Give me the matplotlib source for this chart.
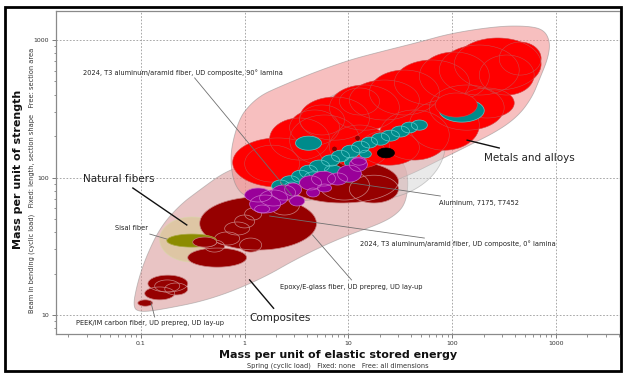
import numpy as np
import matplotlib
matplotlib.use("Agg")
import matplotlib.pyplot as plt
from matplotlib.patches import Polygon, Rectangle
from matplotlib.ticker import LogLocator, FuncFormatter, NullFormatter

# Property ranges: (x_low, x_high, y_low, y_high)
# x = mass per unit of elastic stored energy, y = mass per unit of strength
composites = [
    (2.48, 30.3, 65.3, 134),
    (0.369, 4.92, 29.7, 72.2),
    (0.283, 1.045, 22.3, 30.7),
    (0.117, 0.283, 14.7, 19.5),
    (0.109, 0.212, 12.9, 16.0),
    (0.0936, 0.130, 11.6, 12.9),
    (0.316, 0.538, 31.2, 36.9),
    (0.41, 0.64, 28.7, 35.1),
    (0.515, 0.895, 32.3, 40.2),
    (0.642, 1.117, 38.2, 47.5),
    (0.801, 1.248, 43.0, 53.4),
    (1.0, 1.457, 49.1, 60.0),
    (1.167, 1.942, 56.1, 68.6),
    (0.895, 1.457, 28.7, 36.3),
    (0.136, 0.237, 14.7, 18.0),
    (0.170, 0.283, 14.0, 17.1),
    (5.26, 15.9, 68.6, 113),
    (10.2, 30.3, 65.3, 104),
    (1.739, 3.38, 53.4, 74.6),
]
metals = [
    (0.767, 5.62, 85.3, 194),
    (1.0, 3.38, 92.7, 172),
    (1.739, 6.56, 134, 271),
    (2.71, 8.19, 172, 310),
    (2.71, 12.8, 123, 285),
    (3.38, 15.9, 187, 385),
    (6.56, 30.9, 221, 471),
    (10.2, 48.2, 262, 512),
    (15.9, 75.0, 285, 605),
    (27.7, 146, 337, 716),
    (48.2, 227, 366, 818),
    (75.0, 441, 398, 920),
    (104.5, 717, 433, 1035),
    (19.9, 93.5, 134, 310),
    (38.6, 182, 158, 366),
    (60.1, 316, 221, 471),
    (117, 395, 271, 448),
    (6.56, 24.8, 117, 241),
    (182, 614, 398, 778),
    (8.19, 19.9, 285, 448),
    (3.38, 9.16, 204, 337),
    (283, 717, 556, 967),
    (12.8, 48.2, 123, 221),
]
aluminium = [
    (75.0, 203, 253, 372),
    (3.09, 5.50, 158, 200),
    (1.82, 2.71, 78.5, 95.9),
    (2.22, 3.38, 83.9, 103),
    (2.83, 4.22, 92.7, 113),
    (3.38, 5.03, 99, 123),
    (4.22, 6.56, 110, 134),
    (5.50, 8.19, 121, 146),
    (6.87, 10.2, 130, 158),
    (8.57, 12.8, 139, 172),
    (10.7, 15.9, 151, 184),
    (13.3, 19.0, 164, 197),
    (16.6, 24.8, 172, 211),
    (20.7, 30.9, 184, 221),
    (25.9, 38.6, 197, 237),
    (32.3, 46.1, 211, 253),
    (40.4, 57.5, 221, 262),
    (3.78, 5.50, 92.7, 110),
    (5.88, 8.57, 104, 123),
    (9.16, 13.3, 117, 141),
    (12.8, 16.6, 139, 158),
    (2.43, 3.24, 81.2, 92.7),
]
metals_upper = [
    (68.7, 174, 275, 412),
]
al_matrix = [
    (1.0, 1.82, 66.4, 83.9),
    (1.117, 2.22, 55.2, 74.6),
    (1.393, 2.59, 62.1, 81.2),
    (1.82, 3.09, 68.6, 88.2),
    (2.43, 3.53, 73.4, 91.2),
    (3.38, 5.50, 81.2, 103),
    (4.41, 7.50, 86.7, 111),
    (6.28, 9.78, 88.2, 108),
    (7.83, 13.3, 92.7, 123),
    (10.2, 15.2, 111, 139),
    (2.71, 3.78, 62.1, 73.4),
    (3.95, 5.26, 72.2, 83.9),
    (1.248, 1.739, 55.2, 63.1),
    (5.03, 6.87, 78.5, 89.7),
    (10.7, 14.9, 123, 141),
]
other = [(19.0, 27.7, 139, 164)]
sisal = [(0.178, 0.538, 31.2, 38.8)]
sisal_inner = [(0.316, 0.538, 31.2, 36.9)]
markers = [(11.7, 12.8, 187, 200), (7.01, 7.67, 156, 167)]

# Family envelopes (outline points)
metals_env_x = [0.750, 0.895, 1.117, 1.457, 2.03, 4.51, 10.2, 19.9, 48.2, 100, 283, 550,
                767, 876, 837, 687, 588, 441, 283, 136, 75, 38.6, 15.9, 5.26, 1.739,
                1.0, 0.801, 0.733]
metals_env_y = [172, 271, 337, 398, 448, 576, 716, 818, 967, 1125, 1264, 1264,
                1183, 967, 739, 512, 385, 285, 221, 167, 134, 104, 81.2, 68.6, 66.4,
                72.2, 88.2, 123]
comp_env_x = [0.0838, 0.0916, 0.109, 0.152, 0.237, 0.369, 0.642, 1.117, 3.38, 10.2,
              27.7, 34.5, 37.8, 36.1, 30.9, 21.2, 8.75, 3.38, 1.393, 0.461, 0.152, 0.0978]
comp_env_y = [11.4, 16.5, 25.1, 43.0, 63.1, 81.2, 110, 127, 134, 139,
              139, 127, 95.9, 68.6, 56.1, 46.7, 36.9, 26.4, 18.0, 12.9, 10.9, 10.5]
al_env = (3.4, 86, 69, 460)
natural_env = (0.152, 0.642, 24.3, 51.6)

x_ticks = [0.1, 1, 10, 100, 1000]
y_ticks = [10, 100, 1000]

# Labels: (text, text_x, text_y, point_x, point_y, line_start_x, line_start_y)
notes = [
    ("2024, T3 aluminum/aramid fiber, UD composite, 90\u00b0 lamina", 0.0277, 576, 2.83, 74.6, 0.330, 530),
    ("Sisal fiber", 0.117, 43.0, 0.178, 35.7, 0.122, 38.8),
    ("PEEK/IM carbon fiber, UD prepreg, UD lay-up", 0.0237, 8.74, 0.125, 12.4, 0.136, 9.67),
    ("Epoxy/E-glass fiber, UD prepreg, UD lay-up", 2.17, 16.0, 4.51, 38.2, 10.7, 18.0),
    ("2024, T3 aluminum/aramid fiber, UD composite, 0\u00b0 lamina", 12.8, 32.8, 1.739, 52.5, 53.8, 36.3),
    ("Aluminum, 7175, T7452", 75.0, 65.3, 9.36, 92.7, 76.7, 73.4),
]
family_notes = [
    ("Natural fibers", 0.0277, 98, 0.277, 45.2, 0.0838, 83.9),
    ("Composites", 1.117, 9.5, 1.117, 18.0, 1.90, 11.2),
    ("Metals and alloys", 203, 139, 139, 187, 283, 164),
]

fig = plt.figure(figsize=(6.23, 3.74), dpi=100)
ax = fig.add_axes([56 / 623, 1 - 334 / 374, 564 / 623, 323 / 374])
ax.set_xscale("log")
ax.set_yscale("log")
ax.set_xlim(0.01524, 4122)
ax.set_ylim(7.28, 1626)


def ellipse_pts(xlo, xhi, ylo, yhi, n=90):
    t = np.linspace(0, 2 * np.pi, n, endpoint=False)
    lx0, lx1, ly0, ly1 = np.log10([xlo, xhi, ylo, yhi])
    cx, cy = (lx0 + lx1) / 2, (ly0 + ly1) / 2
    rx, ry = (lx1 - lx0) / 2, (ly1 - ly0) / 2
    return np.column_stack([10 ** (cx + rx * np.cos(t)), 10 ** (cy + ry * np.sin(t))])


def smooth_outline(xs, ys, passes=3):
    p = np.log10(np.column_stack([xs, ys]))
    for _ in range(passes):
        q = np.roll(p, -1, axis=0)
        a = 0.75 * p + 0.25 * q
        b = 0.25 * p + 0.75 * q
        p = np.stack([a, b], axis=1).reshape(-1, 2)
    return 10 ** p


def draw_family(boxes, face, edge, z, lw=0.5):
    for b in boxes:
        ax.add_patch(Polygon(ellipse_pts(*b), closed=True, facecolor=face,
                             edgecolor="none", zorder=z))
    for b in boxes:
        ax.add_patch(Polygon(ellipse_pts(*b), closed=True, fill=False,
                             edgecolor=edge, lw=lw, zorder=z + 0.1))


# envelopes
ax.add_patch(Polygon(smooth_outline(comp_env_x, comp_env_y), closed=True,
                     facecolor="#D48A8A", alpha=0.5, edgecolor="#8C8C8C", lw=0.6, zorder=1))
ax.add_patch(Polygon(smooth_outline(metals_env_x, metals_env_y), closed=True,
                     facecolor="#F28C8C", alpha=0.55, edgecolor="#8C8C8C", lw=0.6, zorder=1.1))
ax.add_patch(Polygon(ellipse_pts(*al_env), closed=True, facecolor="#D0D0D0",
                     alpha=0.45, edgecolor="#909090", lw=0.6, zorder=1.2))
ax.add_patch(Polygon(ellipse_pts(*natural_env), closed=True, facecolor="#D8C890",
                     alpha=0.6, edgecolor="#D8D8A8", lw=0.7, zorder=1.3))

# bubbles
draw_family(composites, "#960000", "#C98080", 2)
draw_family(sisal, "#8C8C00", "#A8A840", 2.5)
draw_family(sisal_inner, "#960000", "#C98080", 2.6)
draw_family(metals, "#FF0000", "#D04848", 3, lw=0.4)
draw_family(other, "#000000", "#000000", 3.5)
draw_family(aluminium, "#008B8B", "#5CCACA", 4)
draw_family(metals_upper, "#FF0000", "#D04848", 4.5, lw=0.4)
draw_family(al_matrix, "#990099", "#C868C8", 5)
draw_family(markers, "#8B0000", "#600000", 5.5, lw=0.3)

# annotations
for txt, tx, ty, px, py, sx, sy in notes:
    ha = "right" if txt == "Sisal fiber" else "left"
    ax.text(tx, ty, txt, fontsize=4.8, color="#222222", ha=ha, va="center", zorder=10)
    ax.plot([sx, px], [sy, py], color="#707070", lw=0.6, zorder=9)
for txt, tx, ty, px, py, sx, sy in family_notes:
    ax.text(tx, ty, txt, fontsize=7.5, color="#222222", ha="left", va="center", zorder=10)
    ax.plot([sx, px], [sy, py], color="#111111", lw=1.0, zorder=9)

# axes styling
fmt = FuncFormatter(lambda v, _: f"{v:g}")
ax.set_xticks(x_ticks)
ax.set_yticks(y_ticks)
ax.xaxis.set_minor_locator(LogLocator(base=10, subs=np.arange(2, 10), numticks=12))
ax.yaxis.set_minor_locator(LogLocator(base=10, subs=np.arange(2, 10), numticks=12))
ax.xaxis.set_major_formatter(fmt)
ax.yaxis.set_major_formatter(fmt)
ax.xaxis.set_minor_formatter(NullFormatter())
ax.yaxis.set_minor_formatter(NullFormatter())
ax.tick_params(which="major", direction="out", length=3, width=0.6, color="#666666",
               labelsize=4.5, labelcolor="#333333", pad=2)
ax.tick_params(which="minor", direction="out", length=1.8, width=0.5, color="#666666")
ax.grid(True, which="major", color="#9A9A9A", lw=0.6, linestyle=(0, (2, 2)), zorder=0)
ax.set_axisbelow(True)
for s in ax.spines.values():
    s.set_color("#8A8A8A")
    s.set_linewidth(0.9)

fig.text(338 / 623, 1 - 355 / 374, "Mass per unit of elastic stored energy",
         fontsize=8, fontweight="bold", ha="center", va="center", color="#111111")
fig.text(338 / 623, 1 - 366 / 374, "Spring (cyclic load)   Fixed: none   Free: all dimensions",
         fontsize=4.8, ha="center", va="center", color="#333333")
fig.text(18 / 623, 1 - 169 / 374, "Mass per unit of strength", rotation=90,
         fontsize=8, fontweight="bold", ha="center", va="center", color="#111111")
fig.text(32 / 623, 1 - 180 / 374,
         "Beam in bending (cyclic load)   Fixed: length, section shape   Free: section area",
         rotation=90, fontsize=4.8, ha="center", va="center", color="#333333")

fig.patches.append(Rectangle((5 / 623, 1 - 371 / 374), 616 / 623, 364 / 374,
                             transform=fig.transFigure, fill=False,
                             edgecolor="black", lw=2))

fig.savefig("out.png", dpi=100)
